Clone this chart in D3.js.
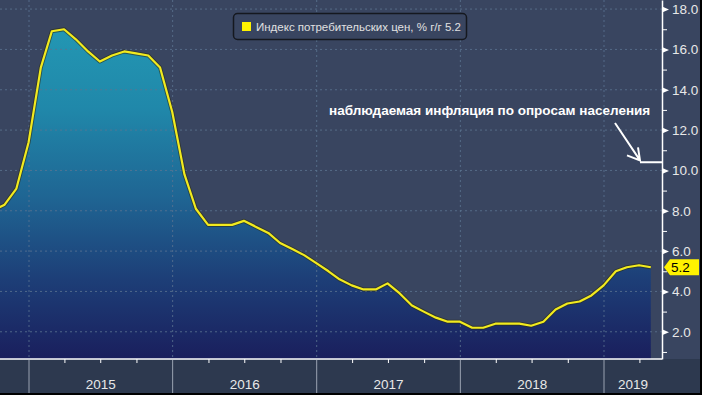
<!DOCTYPE html>
<html>
<head>
  <meta charset="utf-8">
  <title>ИПЦ, % г/г</title>
  <style>
    body { margin: 0; background: #000; }
    svg { display: block; font-family: "Liberation Sans", Arial, sans-serif; }
  </style>
</head>
<body>
  <div id="chart"></div>

  <script src="https://cdn.jsdelivr.net/npm/d3@7"></script>
  <script type="text/javascript">

  // monthly CPI, % y/y (value plotted at month end)
  var startYear = 2014, startMonth = 8; // September 2014
  var cpi = [
    8.0, 8.3, 9.1, 11.4,
    15.1, 16.9, 17.0, 16.5, 15.9, 15.4, 15.7, 15.9, 15.8, 15.7, 15.1, 12.9,
    9.8, 8.1, 7.3, 7.3, 7.3, 7.5, 7.2, 6.9, 6.4, 6.1, 5.8, 5.4,
    5.0, 4.6, 4.3, 4.1, 4.1, 4.4, 3.9, 3.3, 3.0, 2.7, 2.5, 2.5,
    2.2, 2.2, 2.4, 2.4, 2.4, 2.3, 2.5, 3.1, 3.4, 3.5, 3.8, 4.3,
    5.0, 5.2, 5.3, 5.2
  ];
  var years = [2015, 2016, 2017, 2018, 2019];
  var yTicks = [2, 4, 6, 8, 10, 12, 14, 16, 18];
  var yMinor = [1, 3, 5, 7, 9, 11, 13, 15, 17];
  var surveyValue = 10.4;
  var legendLabel = 'Индекс потребительских цен, % г/г  5.2';
  var note = 'наблюдаемая инфляция по опросам населения';

  var width = 702, height = 395;
  var plotRight = 662, plotBottom = 359;

  var data = cpi.map(function(v, i){
    return { date: new Date(startYear, startMonth + i + 1, 0), v: v };
  });
  var last = data[data.length - 1];

  var x = d3.scaleTime()
    .domain([new Date(2015, 0, 1), new Date(2019, 0, 1)])
    .range([29, 604]);

  var y = d3.scaleLinear()
    .domain([0.65, 18.45])
    .range([plotBottom, 0]);

  var svg = d3.select('#chart').append('svg')
    .attr('width', width)
    .attr('height', height);

  var defs = svg.append('defs');
  var grad = defs.append('linearGradient')
    .attr('id', 'fill')
    .attr('gradientUnits', 'userSpaceOnUse')
    .attr('x1', 0).attr('y1', 0)
    .attr('x2', 0).attr('y2', plotBottom);
  [[0, '#249cb6'], [0.3, '#2088aa'], [0.55, '#1f6593'], [0.78, '#1d3e77'], [1, '#1a1f5d']]
    .forEach(function(s){
      grad.append('stop').attr('offset', s[0]).attr('stop-color', s[1]);
    });

  defs.append('clipPath').attr('id', 'plot')
    .append('rect').attr('width', plotRight).attr('height', plotBottom);

  // backgrounds
  svg.append('rect').attr('width', width).attr('height', height).attr('fill', '#394560');
  svg.append('rect').attr('y', plotBottom).attr('width', width).attr('height', height - plotBottom)
    .attr('fill', '#2d394f');
  svg.append('rect').attr('x', 700).attr('width', 2).attr('height', height).attr('fill', '#000');
  svg.append('rect').attr('y', 393).attr('width', width).attr('height', 2).attr('fill', '#000');

  var plot = svg.append('g').attr('clip-path', 'url(#plot)');

  // area
  var area = d3.area()
    .x(function(d){ return x(d.date); })
    .y0(plotBottom)
    .y1(function(d){ return y(d.v); });

  plot.append('path').datum(data)
    .attr('d', area)
    .attr('fill', 'url(#fill)');

  // grid
  plot.selectAll('.hgrid').data(yTicks).enter().append('line')
    .attr('x1', 0).attr('x2', plotRight)
    .attr('y1', function(d){ return y(d); })
    .attr('y2', function(d){ return y(d); })
    .attr('stroke', '#5d7592').attr('stroke-width', 1)
    .attr('stroke-dasharray', '2,3').attr('opacity', 0.8);

  plot.selectAll('.vgrid').data(years).enter().append('line')
    .attr('x1', function(d){ return x(new Date(d, 0, 1)); })
    .attr('x2', function(d){ return x(new Date(d, 0, 1)); })
    .attr('y1', 0).attr('y2', plotBottom)
    .attr('stroke', '#5d7592').attr('stroke-width', 1)
    .attr('stroke-dasharray', '2,3').attr('opacity', 0.8);

  // line
  var line = d3.line()
    .x(function(d){ return x(d.date); })
    .y(function(d){ return y(d.v); });

  plot.append('path').datum(data)
    .attr('d', line)
    .attr('fill', 'none')
    .attr('stroke', '#2b2d14').attr('stroke-opacity', 0.6)
    .attr('stroke-width', 4).attr('stroke-linejoin', 'round');

  plot.append('path').datum(data)
    .attr('d', line)
    .attr('fill', 'none')
    .attr('stroke', '#f2ea1e')
    .attr('stroke-width', 2.2).attr('stroke-linejoin', 'round');

  // right axis
  var yAxis = svg.append('g')
    .attr('transform', 'translate(' + plotRight + ',0)')
    .call(d3.axisRight(y).tickValues(yTicks).tickSize(0).tickPadding(10)
      .tickFormat(d3.format('.1f')));
  yAxis.select('.domain').attr('stroke', '#fff').attr('stroke-width', 1.5);
  yAxis.selectAll('text').attr('fill', '#e8e8e8').style('font-size', '13.5px');
  yAxis.selectAll('.tick').append('path')
    .attr('d', 'M0,-3L7,0L0,3Z').attr('fill', '#fff');

  var yAxisMinor = svg.append('g')
    .attr('transform', 'translate(' + plotRight + ',0)')
    .call(d3.axisRight(y).tickValues(yMinor).tickSize(5).tickFormat(''));
  yAxisMinor.select('.domain').remove();
  yAxisMinor.selectAll('line').attr('stroke', '#fff');

  // bottom axis
  var quarters = d3.timeMonth.every(3).range(new Date(2014, 9, 1), new Date(2019, 6, 1))
    .filter(function(d){ return d.getMonth() !== 0; });

  var xAxis = svg.append('g')
    .attr('transform', 'translate(0,' + plotBottom + ')')
    .call(d3.axisBottom(x).tickValues(quarters).tickSize(4).tickSizeOuter(0).tickFormat(''));
  xAxis.select('.domain').attr('d', 'M0,0H' + plotRight).attr('stroke', '#fff').attr('stroke-width', 1.5);
  xAxis.selectAll('line').attr('stroke', '#fff');

  svg.selectAll('.ysep').data(years).enter().append('line')
    .attr('x1', function(d){ return x(new Date(d, 0, 1)); })
    .attr('x2', function(d){ return x(new Date(d, 0, 1)); })
    .attr('y1', plotBottom + 1).attr('y2', 393)
    .attr('stroke', '#9aa3b2').attr('stroke-width', 1);

  svg.selectAll('.ylabel').data(years).enter().append('text')
    .attr('x', function(d){
      var a = x(new Date(d, 0, 1)), b = Math.min(x(new Date(d + 1, 0, 1)), plotRight);
      return (a + b) / 2;
    })
    .attr('y', 389)
    .attr('text-anchor', 'middle')
    .attr('fill', '#e8e8e8')
    .style('font-size', '13.5px')
    .text(function(d){ return d; });

  // last value tag
  var ty = y(last.v);
  svg.append('path')
    .attr('d', 'M664,' + ty + 'L670,' + (ty - 8) + 'H699V' + (ty + 8) + 'H670Z')
    .attr('fill', '#fff200');
  svg.append('text')
    .attr('x', 671).attr('y', ty + 5)
    .attr('fill', '#000').style('font-size', '13.5px')
    .text(d3.format('.1f')(last.v));

  // legend
  var lg = svg.append('g');
  lg.append('rect')
    .attr('x', 233.5).attr('y', 13.5).attr('width', 233).attr('height', 26).attr('rx', 4)
    .attr('fill', '#394560').attr('stroke', '#15181f').attr('stroke-width', 1.5);
  lg.append('rect')
    .attr('x', 242).attr('y', 22).attr('width', 9).attr('height', 9).attr('fill', '#fff200');
  lg.append('text')
    .attr('x', 256).attr('y', 31)
    .attr('fill', '#e0e0e0').style('font-size', '11.5px')
    .text(legendLabel);

  // annotation
  svg.append('text')
    .attr('x', 329).attr('y', 115)
    .attr('fill', '#fff').style('font-size', '13.5px').style('font-weight', 'bold')
    .text(note);

  var sy = y(surveyValue);
  svg.append('path')
    .attr('d', 'M615,123L640,' + (sy - 2) + 'M638,' + (sy - 15) + 'L640,' + (sy - 2) + 'L627,' + (sy - 7)
      + 'M640,' + sy + 'H' + plotRight)
    .attr('fill', 'none').attr('stroke', '#fff').attr('stroke-width', 2);

  </script>
</body>
</html>
